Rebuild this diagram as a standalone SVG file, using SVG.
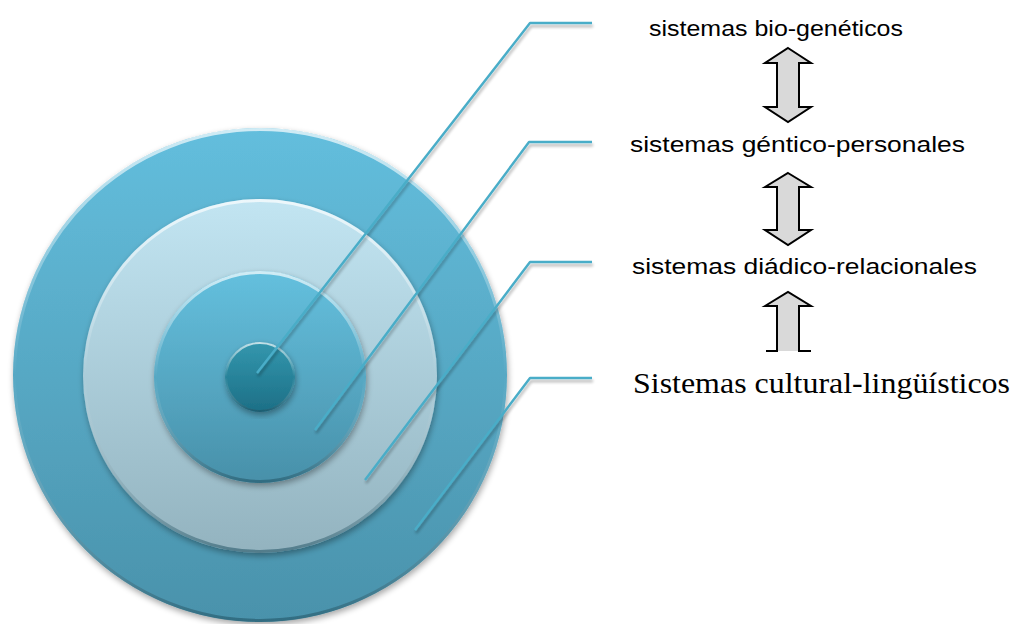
<svg xmlns="http://www.w3.org/2000/svg" width="1017" height="624" viewBox="0 0 1017 624">
<defs>
<linearGradient id="gBlue" x1="0" y1="0" x2="0" y2="1">
<stop offset="0" stop-color="#63bedd"/>
<stop offset="1" stop-color="#4a92ab"/>
</linearGradient>
<linearGradient id="gLight" x1="0" y1="0" x2="0" y2="1">
<stop offset="0" stop-color="#c2e5f2"/>
<stop offset="1" stop-color="#93b3bf"/>
</linearGradient>
<linearGradient id="gMid" x1="0" y1="0" x2="0" y2="1">
<stop offset="0" stop-color="#64c0de"/>
<stop offset="1" stop-color="#4890a9"/>
</linearGradient>
<linearGradient id="gCore" x1="0" y1="0" x2="0" y2="1">
<stop offset="0" stop-color="#3397ae"/>
<stop offset="1" stop-color="#1d6f86"/>
</linearGradient>
<linearGradient id="gRim" x1="0" y1="0" x2="0" y2="1">
<stop offset="0" stop-color="#ffffff" stop-opacity="0.7"/>
<stop offset="0.5" stop-color="#ffffff" stop-opacity="0"/>
<stop offset="1" stop-color="#1d4f60" stop-opacity="0.55"/>
</linearGradient>
<filter id="shadow" x="-10%" y="-10%" width="120%" height="120%">
<feGaussianBlur in="SourceAlpha" stdDeviation="3"/>
<feOffset dx="1" dy="3" result="b"/>
<feComponentTransfer><feFuncA type="linear" slope="0.35"/></feComponentTransfer>
<feMerge><feMergeNode/><feMergeNode in="SourceGraphic"/></feMerge>
</filter>
<filter id="lshadow" x="-10%" y="-10%" width="120%" height="130%">
<feGaussianBlur in="SourceAlpha" stdDeviation="1.5"/>
<feOffset dx="1" dy="3"/>
<feComponentTransfer><feFuncA type="linear" slope="0.3"/></feComponentTransfer>
<feMerge><feMergeNode/><feMergeNode in="SourceGraphic"/></feMerge>
</filter>
</defs>
<style>
.rim{fill:none;stroke:url(#gRim);stroke-width:3}
.lead{fill:none;stroke:#4aadc8;stroke-width:2.4;stroke-linejoin:round}
.sans{font-family:"Liberation Sans",Arial,sans-serif;font-size:22.5px;fill:#000}
.serif{font-family:"Liberation Serif","Times New Roman",serif;font-size:30px;fill:#000}
.arr{fill:#d9d9d9;stroke:#000;stroke-width:2;stroke-linejoin:miter}
</style>

<g id="ring-outer" filter="url(#shadow)">
<circle cx="260" cy="375" r="247" fill="url(#gBlue)"/>
<circle cx="260" cy="375" r="245.5" class="rim"/>
</g>
<g id="ring-light" filter="url(#shadow)">
<circle cx="260" cy="376" r="177" fill="url(#gLight)"/>
<circle cx="260" cy="376" r="175.5" class="rim"/>
</g>
<g id="ring-mid" filter="url(#shadow)">
<circle cx="260" cy="377" r="106" fill="url(#gMid)"/>
<circle cx="260" cy="377" r="104.5" class="rim"/>
</g>
<g id="core" filter="url(#shadow)">
<circle cx="260" cy="377" r="35" fill="url(#gCore)"/>
<circle cx="260" cy="377" r="34" fill="none" stroke="url(#gRim)" stroke-width="2"/>
</g>

<g id="connectors" filter="url(#lshadow)">
<polyline class="lead" points="257,373 530,23 592,23"/>
<polyline class="lead" points="315,430 529,142 592,142"/>
<polyline class="lead" points="365,480 530,262 592,262"/>
<polyline class="lead" points="415,530 530,378 592,378"/>
</g>

<g id="label-bio"><text class="sans" x="649" y="36" textLength="254" lengthAdjust="spacingAndGlyphs">sistemas bio-genéticos</text></g>
<g id="label-personal"><text class="sans" x="630" y="152" textLength="335" lengthAdjust="spacingAndGlyphs">sistemas géntico-personales</text></g>
<g id="label-diadico"><text class="sans" x="632" y="274" textLength="345" lengthAdjust="spacingAndGlyphs">sistemas diádico-relacionales</text></g>
<g id="label-cultural"><text class="serif" x="633" y="393" textLength="377" lengthAdjust="spacingAndGlyphs">Sistemas cultural-lingüísticos</text></g>

<g id="arrow-1"><polygon class="arr" points="788,48 811,63 799,63 799,107 811,107 788,122 765,107 777,107 777,63 765,63"/></g>
<g id="arrow-2"><polygon class="arr" points="788,173 811,187 799,187 799,230 811,230 788,245 765,230 777,230 777,187 765,187"/></g>
<g id="arrow-3">
<polygon points="788,292 811,306 799,306 799,351 777,351 777,306 765,306" fill="#d9d9d9"/>
<polyline fill="none" stroke="#000" stroke-width="2" points="766,351 777,351 777,306 765,306 788,292 811,306 799,306 799,351 811,351"/>
</g>
</svg>
